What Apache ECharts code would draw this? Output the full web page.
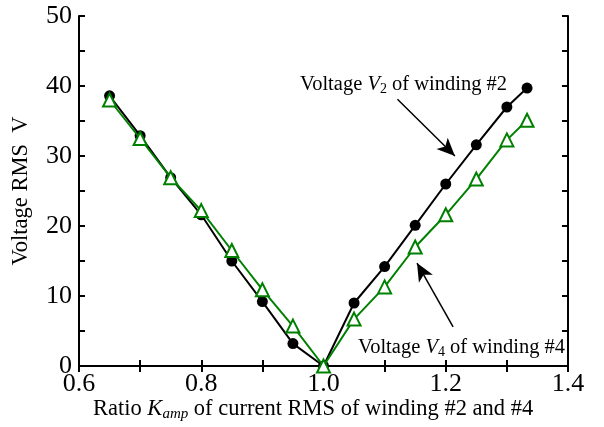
<!DOCTYPE html>
<html><head><meta charset="utf-8">
<script src="https://cdn.jsdelivr.net/npm/echarts@6/dist/echarts.min.js"></script>
<style>html,body{margin:0;padding:0;background:#fff}#c{width:604px;height:427px}</style>
</head><body><div id="c"></div>
<script>
const kamp = [0.65,0.7,0.75,0.8,0.85,0.9,0.95,1.0,1.05,1.1,1.15,1.2,1.25,1.3,1.333];
const v2 = [38.6,32.9,26.9,21.6,15.0,9.2,3.2,0,9.0,14.2,20.1,26.0,31.6,37.0,39.7];
const v4 = [38.0,32.5,26.9,22.2,16.5,10.9,5.7,0,6.7,11.3,17.0,21.6,26.7,32.3,35.1];
const arrowV2 = [[1.121,38.1],[1.215,30.0]];
const arrowV4 = [[1.212,5.6],[1.153,14.7]];
const font = 'Liberation Serif, Times New Roman, serif';
const chart = echarts.init(document.getElementById('c'));
const axisCommon = {
  axisLine:{show:true,lineStyle:{color:'#000',width:2}},
  axisTick:{show:true,inside:true,length:6,lineStyle:{color:'#000',width:2}},
  splitLine:{show:false}
};
const rich = (main, sub, subItalic) => ({
  n:{fontFamily:font,fontSize:main,fill:'#000'},
  i:{fontFamily:font,fontSize:main,fontStyle:'italic',fill:'#000'},
  s:{fontFamily:font,fontSize:sub,fontStyle:subItalic?'italic':'normal',fill:'#000',padding:[Math.round(main*0.45),0,0,0]}
});
chart.setOption({
  animation:false,
  grid:{left:79,right:36,top:16,bottom:61,containLabel:false},
  xAxis:[
    Object.assign({type:'value',min:0.6,max:1.4,interval:0.1,position:'bottom',
      axisLabel:{color:'#000',fontFamily:font,fontSize:26,margin:5,
        formatter:v=>Math.round(v*10)%2===0?v.toFixed(1):''}}, axisCommon),
    Object.assign({type:'value',min:0.6,max:1.4,interval:0.1,position:'top',
      axisLabel:{show:false}}, axisCommon)
  ],
  yAxis:[
    Object.assign({type:'value',min:0,max:50,interval:5,position:'left',
      axisLabel:{color:'#000',fontFamily:font,fontSize:26,margin:7,
        formatter:v=>v%10===0?String(v):''},
      name:'Voltage RMS  V',nameLocation:'middle',nameGap:46,
      nameTextStyle:{color:'#000',fontFamily:font,fontSize:22.5}}, axisCommon),
    Object.assign({type:'value',min:0,max:50,interval:5,position:'right',
      axisLabel:{show:false}}, axisCommon)
  ],
  graphic:[
    {type:'text',left:300,top:74,style:{
      text:'{n|Voltage }{i|V}{s|2}{n| of winding #2}',rich:rich(20.5,14,false)}},
    {type:'text',left:358,top:337,style:{
      text:'{n|Voltage }{i|V}{s|4}{n| of winding #4}',rich:rich(20.5,14,false)}},
    {type:'text',left:93,top:398,style:{
      text:'{n|Ratio }{i|K}{s|amp}{n| of current RMS of winding #2 and #4}',rich:rich(22.5,15,true)}}
  ],
  series:[
    {type:'line',name:'V2',data:kamp.map((k,i)=>[k,v2[i]]),
      symbol:'circle',symbolSize:11,
      lineStyle:{color:'#000',width:2},itemStyle:{color:'#000'},z:2,
      markLine:{silent:true,symbol:['none','arrow'],symbolSize:[12,18],
        lineStyle:{color:'#000',width:1.5,type:'solid'},label:{show:false},
        data:[[{coord:arrowV2[0]},{coord:arrowV2[1]}],[{coord:arrowV4[0]},{coord:arrowV4[1]}]]}},
    {type:'line',name:'V4',data:kamp.map((k,i)=>[k,v4[i]]),
      symbol:'triangle',symbolSize:13,
      lineStyle:{color:'#008000',width:2},
      itemStyle:{color:'#fff',borderColor:'#008000',borderWidth:2},z:3}
  ]
});
</script></body></html>
